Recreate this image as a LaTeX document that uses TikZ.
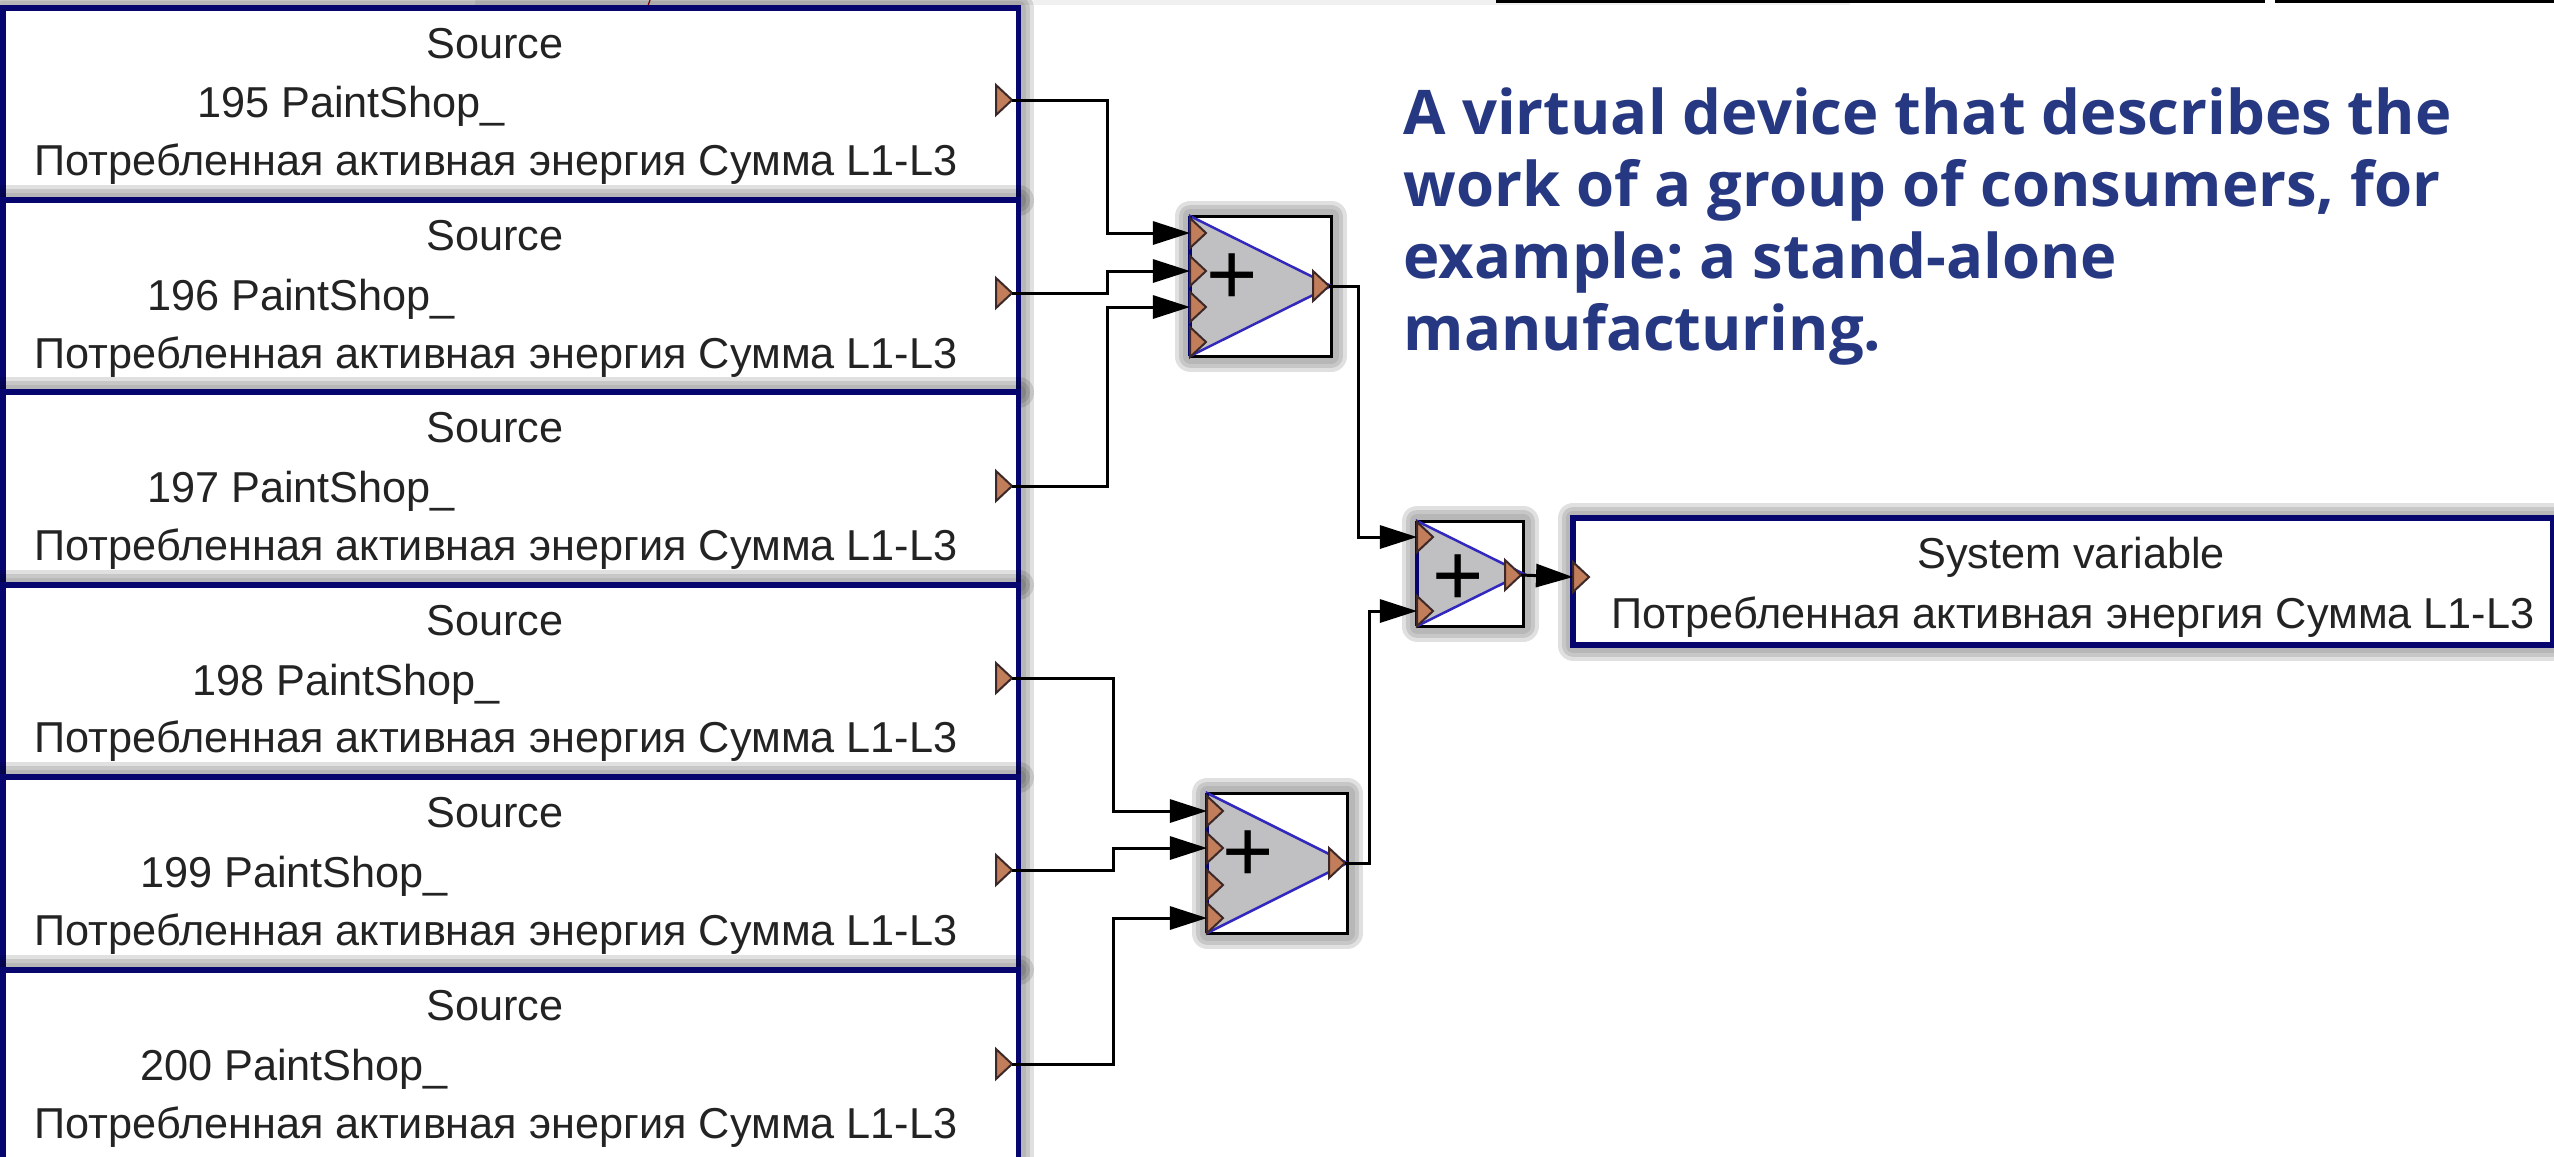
\documentclass[tikz,border=0pt]{standalone}
\usepackage{fontspec}
\setmainfont{Liberation Sans}
\newfontfamily\titlefont{Open Sans}
\usetikzlibrary{arrows.meta,positioning,shapes.geometric}
\definecolor{mynavy}{RGB}{6,6,110}
\definecolor{mytitle}{RGB}{38,56,130}
\definecolor{myport}{RGB}{194,126,90}
\definecolor{myport2}{RGB}{60,40,40}
\definecolor{mygray}{RGB}{192,192,194}
\definecolor{myviolet}{RGB}{50,40,190}
\definecolor{mytext}{RGB}{35,35,35}

\begin{document}
\begin{tikzpicture}
    [x=0.01cm,y=-0.01cm,
     softshadow/.style={preaction={draw=black,opacity=.12,line width=.31cm,line join=round},
        preaction={draw=black,opacity=.11,line width=.23cm,line join=round},
        preaction={draw=black,opacity=.08,line width=.15cm,line join=round}},
     srcbox/.style={draw=mynavy,fill=white,line width=.055cm,softshadow,anchor=north west,outer sep=0,inner sep=0,minimum width=10.15cm,minimum height=1.924cm},
     sumbox/.style={draw=black,fill=white,line width=.03cm,softshadow,anchor=north west,outer sep=0,inner sep=0},
     sumtri/.style={draw=myviolet,fill=mygray,line width=.025cm},
     lbl/.style={text=mytext,anchor=base,font=\fontsize{12.3}{14}\selectfont,inner sep=0},
     plusmark/.style={text=black,inner sep=0,font=\fontsize{25}{25}\selectfont},
     port/.style={shape=isosceles triangle,isosceles triangle stretches,draw=myport2,fill=myport,line width=.02cm,inner sep=0,outer sep=0,minimum width=.30cm,minimum height=.16cm},
     wire/.style={draw=black,line width=.03cm},
     arrowwire/.style={wire,-{Triangle[length=.37cm,width=.23cm]}}]

    % strip along the top edge
    \fill[black!6] (475,0) rectangle (1850,5);
    \fill[black] (1496,0) rectangle (2265,3);
    \fill[black] (2275,0) rectangle (2554,3);
    \draw[red!70!black,line width=.012cm] (650,0) -- (645,14);

    % sources
    \node[srcbox] (src195) at (3,8) {};
    \node[lbl] (head195) at (495,58) {Source};
    \node[lbl] (name195) at (351,117) {195 PaintShop\_};
    \node[lbl] (unit195) at (496,175) {Потребленная активная энергия Сумма L1-L3};
    \node[port,anchor=apex] (out195) at (1012,100) {};

    \node[srcbox] (src196) at (3,200) {};
    \node[lbl] (head196) at (495,250) {Source};
    \node[lbl] (name196) at (301,310) {196 PaintShop\_};
    \node[lbl] (unit196) at (496,368) {Потребленная активная энергия Сумма L1-L3};
    \node[port,anchor=apex] (out196) at (1012,293) {};

    \node[srcbox] (src197) at (3,392) {};
    \node[lbl] (head197) at (495,442) {Source};
    \node[lbl] (name197) at (301,502) {197 PaintShop\_};
    \node[lbl] (unit197) at (496,560) {Потребленная активная энергия Сумма L1-L3};
    \node[port,anchor=apex] (out197) at (1012,486) {};

    \node[srcbox] (src198) at (3,585) {};
    \node[lbl] (head198) at (495,635) {Source};
    \node[lbl] (name198) at (346,695) {198 PaintShop\_};
    \node[lbl] (unit198) at (496,752) {Потребленная активная энергия Сумма L1-L3};
    \node[port,anchor=apex] (out198) at (1012,678) {};

    \node[srcbox] (src199) at (3,777) {};
    \node[lbl] (head199) at (495,827) {Source};
    \node[lbl] (name199) at (294,887) {199 PaintShop\_};
    \node[lbl] (unit199) at (496,945) {Потребленная активная энергия Сумма L1-L3};
    \node[port,anchor=apex] (out199) at (1012,870) {};

    \node[srcbox] (src200) at (3,970) {};
    \node[lbl] (head200) at (495,1020) {Source};
    \node[lbl] (name200) at (294,1080) {200 PaintShop\_};
    \node[lbl] (unit200) at (496,1138) {Потребленная активная энергия Сумма L1-L3};
    \node[port,anchor=apex] (out200) at (1012,1064) {};

    % upper adder
    \node[sumbox,minimum width=1.41cm,minimum height=1.40cm] (sumA) at (1190,216) {};
    \draw[sumtri] (sumA.north west) -- (sumA.east) -- (sumA.south west) -- cycle;
    \draw[draw=mynavy,line width=.04cm] (sumA.north west) -- (sumA.south west);
    \node[plusmark] (plusA) at (1232,279) {+};
    \node[port,anchor=west] (inA1) at (1190,233) {};
    \node[port,anchor=west] (inA2) at (1190,271) {};
    \node[port,anchor=west] (inA3) at (1190,307) {};
    \node[port,anchor=west] (inA4) at (1190,342) {};
    \node[port,anchor=apex] (outA) at (1329,286) {};

    % lower adder
    \node[sumbox,minimum width=1.40cm,minimum height=1.40cm] (sumB) at (1207,793) {};
    \draw[sumtri] (sumB.north west) -- (sumB.east) -- (sumB.south west) -- cycle;
    \draw[draw=mynavy,line width=.04cm] (sumB.north west) -- (sumB.south west);
    \node[plusmark] (plusB) at (1248,856) {+};
    \node[port,anchor=west] (inB1) at (1207,811) {};
    \node[port,anchor=west] (inB2) at (1207,848) {};
    \node[port,anchor=west] (inB3) at (1207,885) {};
    \node[port,anchor=west] (inB4) at (1207,918) {};
    \node[port,anchor=apex] (outB) at (1345,863) {};

    % last adder
    \node[sumbox,minimum width=1.06cm,minimum height=1.05cm] (sumC) at (1417,521) {};
    \draw[sumtri] (sumC.north west) -- (sumC.east) -- (sumC.south west) -- cycle;
    \draw[draw=mynavy,line width=.04cm] (sumC.north west) -- (sumC.south west);
    \node[plusmark] (plusC) at (1458,580) {+};
    \node[port,anchor=west] (inC1) at (1417,537) {};
    \node[port,anchor=west] (inC2) at (1417,611) {};
    \node[port,anchor=apex] (outC) at (1521,575) {};

    % system variable
    \node[srcbox,minimum width=9.79cm,minimum height=1.27cm] (sys) at (1573,518) {};
    \node[lbl] (headsys) at (2071,568) {System variable};
    \node[lbl] (unitsys) at (2073,628) {Потребленная активная энергия Сумма L1-L3};
    \node[port,anchor=west] (insys) at (1573,577) {};

    % wiring
    \coordinate (busA) at (1107,0);
    \coordinate (busB) at (1113,0);
    \coordinate (busC) at (1358,0);
    \coordinate (busD) at (1369,0);
    \draw[arrowwire] (out195.apex) -| (busA |- inA1.west) -- (inA1.west);
    \draw[arrowwire] (out196.apex) -| (busA |- inA2.west) -- (inA2.west);
    \draw[arrowwire] (out197.apex) -| (busA |- inA3.west) -- (inA3.west);
    \draw[arrowwire] (out198.apex) -| (busB |- inB1.west) -- (inB1.west);
    \draw[arrowwire] (out199.apex) -| (busB |- inB2.west) -- (inB2.west);
    \draw[arrowwire] (out200.apex) -| (busB |- inB4.west) -- (inB4.west);
    \draw[arrowwire] (outA.apex) -| (busC |- inC1.west) -- (inC1.west);
    \draw[arrowwire] (outB.apex) -| (busD |- inC2.west) -- (inC2.west);
    \draw[arrowwire] (outC.apex) -- (insys.west);

    \node[anchor=base west,align=left,inner sep=0,text=mytitle,font=\titlefont\bfseries\frenchspacing\fontsize{17.5}{20.4}\selectfont] (title) at (1403,350)
        {A virtual device that describes the\\work of a group of consumers, for\\example: a stand-alone\\manufacturing.};

    \pgfresetboundingbox
    \useasboundingbox(0,0)rectangle(2554,1156);
\end{tikzpicture}
\end{document}
